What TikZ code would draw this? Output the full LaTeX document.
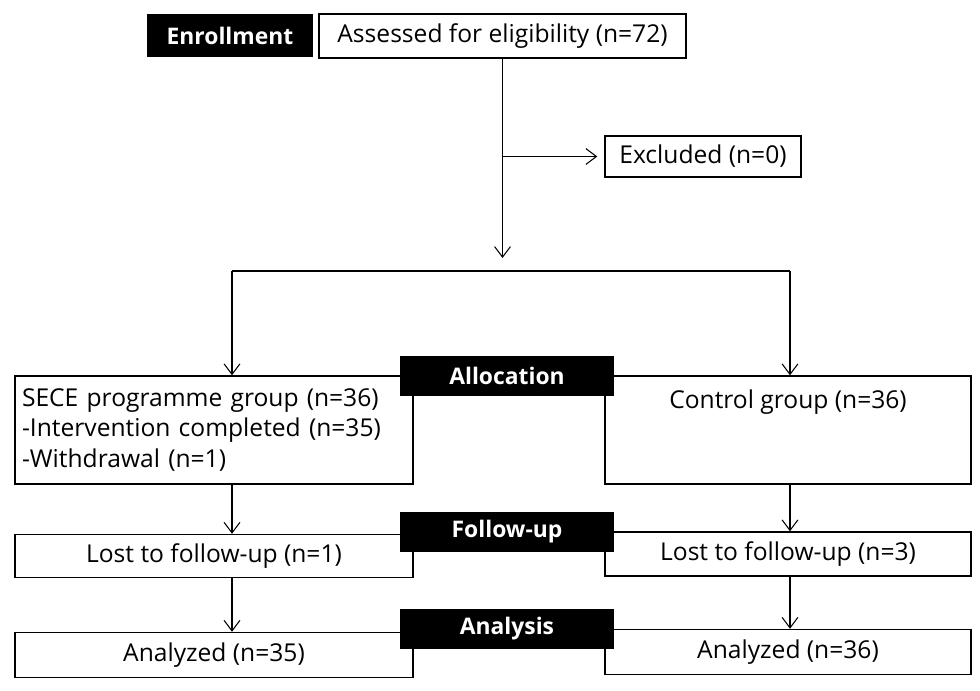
\documentclass[tikz,border=0pt]{standalone}
\usepackage{fontspec}
\setmainfont{Open Sans}
\usetikzlibrary{arrows.meta,positioning}

\begin{document}
\begin{tikzpicture}[
    x=0.02cm, y=-0.02cm,
    box/.style={rectangle, draw, line width=0.8pt, inner sep=0pt, align=center,
                font=\fontsize{14}{17.6}\selectfont},
    stage/.style={rectangle, fill=black, text=white, inner sep=0pt,
                  minimum width=4.28cm, minimum height=0.81cm,
                  font=\fontsize{13}{15}\selectfont\bfseries},
    arrow/.style={-{Straight Barb[length=6pt,width=9pt]}, line width=0.6pt}
]
\useasboundingbox (0,0) rectangle (980,690);
% enrollment
\node[stage, minimum width=3.32cm, minimum height=0.86cm] (enroll) at (230,35.5) {Enrollment};
\node[box, minimum width=7.34cm, minimum height=0.88cm] (assess) at (502.5,36) {Assessed for eligibility (n=72)};
\node[box, minimum width=3.92cm, minimum height=0.82cm] (excl) at (703,156.5) {Excluded (n=0)};
% groups
\node[box, minimum width=7.96cm, minimum height=2.16cm, text width=7.68cm, align=left] (sece) at (214,430)
    {SECE programme group (n=36)\\-Intervention completed (n=35)\\-Withdrawal (n=1)};
\node[box, minimum width=7.32cm, minimum height=2.16cm] (ctrl) at (788,430)
    {Control group (n=36)\\\mbox{}\\\mbox{}};
\node[stage] (alloc) at (507,376) {Allocation};
\node[box, minimum width=7.96cm, minimum height=0.86cm] (lostL) at (214,556) {Lost to follow-up (n=1)};
\node[box, minimum width=7.32cm, minimum height=0.88cm] (lostR) at (788,554) {Lost to follow-up (n=3)};
\node[stage] (follow) at (507,532) {Follow-up};
\node[box, minimum width=7.96cm, minimum height=0.9cm] (anaL) at (214,655) {Analyzed (n=35)};
\node[box, minimum width=7.32cm, minimum height=0.9cm] (anaR) at (788,652) {Analyzed (n=36)};
\node[stage] (analysis) at (507,629) {Analysis};
% connectors
\coordinate (gap) at (502.5,258);
\coordinate (brL) at (232,271);
\coordinate (brR) at (790,271);
\draw[arrow] (assess.south) -- (gap);
\draw[arrow, shorten >=4pt] (assess.south |- excl.west) -- (excl.west);
\draw[line width=0.6pt] (brL) -- (brR);
\draw[arrow] (brL) -- (brL |- sece.north);
\draw[arrow] (brR) -- (brR |- ctrl.north);
\draw[arrow] (brL |- sece.south) -- (brL |- lostL.north);
\draw[arrow] (brR |- ctrl.south) -- (brR |- lostR.north);
\draw[arrow] (brL |- lostL.south) -- (brL |- anaL.north);
\draw[arrow] (brR |- lostR.south) -- (brR |- anaR.north);
\end{tikzpicture}
\end{document}
